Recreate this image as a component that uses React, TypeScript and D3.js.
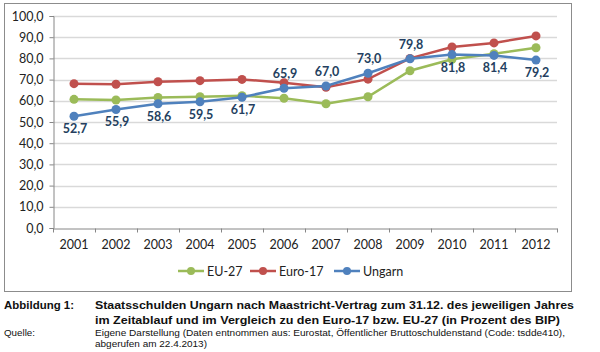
import React, { useEffect, useRef } from 'react';
import * as d3 from 'd3';

const years = ['2001', '2002', '2003', '2004', '2005', '2006', '2007', '2008', '2009', '2010', '2011', '2012'];
const eu27 = [60.7, 60.4, 61.6, 61.9, 62.4, 61.2, 58.6, 61.9, 74.2, 79.6, 82.2, 85.0];
const euro17 = [68.1, 67.8, 69.0, 69.5, 70.1, 68.5, 66.4, 70.2, 80.0, 85.4, 87.3, 90.6];
const ungarn = [52.7, 55.9, 58.6, 59.5, 61.7, 65.9, 67.0, 73.0, 79.8, 81.8, 81.4, 79.2];
const labelAboveYears = ['2006', '2007', '2008', '2009'];
const yTicks = [0, 10, 20, 30, 40, 50, 60, 70, 80, 90, 100];

const series = [
  { name: 'EU-27', values: eu27, color: '#9bbb59' },
  { name: 'Euro-17', values: euro17, color: '#c0504d' },
  { name: 'Ungarn', values: ungarn, color: '#4f81bd' },
];

const fmt = (v: number) => v.toFixed(1).replace('.', ',');

const App = () => {
  const ref = useRef<SVGSVGElement>(null);

  useEffect(() => {
    const svg = d3.select(ref.current);
    svg.selectAll('*').remove();

    const font = 'Lato, "Open Sans", sans-serif';
    const left = 53, right = 557, top = 16, bottom = 228;

    svg.append('rect').attr('width', 600).attr('height', 352).attr('fill', '#fff');
    // outer frame
    svg.append('rect')
      .attr('x', 4.5).attr('y', 3.5).attr('width', 567).attr('height', 288)
      .attr('fill', 'none').attr('stroke', '#8c8c8c');

    const x = d3.scaleBand().domain(years).range([left, right]);
    const y = d3.scaleLinear().domain([0, 100]).range([bottom, top]);
    const cx = (yr: string) => (x(yr) as number) + x.bandwidth() / 2;

    // gridlines
    svg.append('g').selectAll('line')
      .data(yTicks.filter(t => t > 0))
      .enter().append('line')
      .attr('x1', left).attr('x2', right)
      .attr('y1', d => Math.round(y(d)) + 0.5).attr('y2', d => Math.round(y(d)) + 0.5)
      .attr('stroke', '#d9d9d9').attr('stroke-width', 1.5);

    // y axis
    const yAxis = svg.append('g')
      .attr('transform', `translate(${left + 0.5},0)`)
      .call(d3.axisLeft(y).tickValues(yTicks).tickSize(4).tickPadding(6).tickFormat(d => fmt(+d)));
    yAxis.selectAll('path,line').attr('stroke', '#868686');
    yAxis.selectAll('text').attr('font-family', font).attr('font-size', 12.5).attr('fill', '#222');

    // x axis
    const xAxis = svg.append('g')
      .attr('transform', `translate(0,${bottom + 0.5})`)
      .call(d3.axisBottom(x).tickSize(0).tickPadding(12));
    xAxis.select('path').attr('stroke', '#868686');
    xAxis.selectAll('text').attr('font-family', font).attr('font-size', 12.5).attr('fill', '#222');
    xAxis.selectAll('.sep')
      .data(years.concat(['end']))
      .enter().append('line')
      .attr('x1', (d, i) => left + i * x.bandwidth() + 0.5)
      .attr('x2', (d, i) => left + i * x.bandwidth() + 0.5)
      .attr('y1', 0).attr('y2', 4)
      .attr('stroke', '#868686');

    const line = d3.line<number>()
      .x((d, i) => cx(years[i]))
      .y(d => y(d));

    series.forEach(s => {
      svg.append('path')
        .datum(s.values)
        .attr('d', line)
        .attr('fill', 'none')
        .attr('stroke', s.color)
        .attr('stroke-width', 2.5);
      svg.append('g').selectAll('circle')
        .data(s.values)
        .enter().append('circle')
        .attr('cx', (d, i) => cx(years[i]))
        .attr('cy', d => y(d))
        .attr('r', 4.5)
        .attr('fill', s.color);
    });

    // data labels for Ungarn
    svg.append('g').selectAll('text')
      .data(ungarn)
      .enter().append('text')
      .attr('x', (d, i) => cx(years[i]) + 1)
      .attr('y', (d, i) => y(d) + (labelAboveYears.includes(years[i]) ? -10 : 17))
      .attr('text-anchor', 'middle')
      .attr('font-family', font)
      .attr('font-size', 12.5)
      .attr('font-weight', 'bold')
      .attr('fill', '#243f60')
      .text(d => fmt(d));

    // legend
    const legendX = [178, 250, 334];
    const legend = svg.append('g').attr('transform', 'translate(0,271)');
    series.forEach((s, i) => {
      const g = legend.append('g').attr('transform', `translate(${legendX[i]},0)`);
      g.append('line').attr('x1', 0).attr('x2', 26).attr('y1', 0).attr('y2', 0)
        .attr('stroke', s.color).attr('stroke-width', 2.5);
      g.append('circle').attr('cx', 13).attr('cy', 0).attr('r', 4).attr('fill', s.color);
      g.append('text').attr('x', 29).attr('y', 4.5)
        .attr('font-family', font).attr('font-size', 12.5).attr('fill', '#222')
        .text(s.name);
    });

    // caption
    const cap = '"Liberation Sans", Arial, sans-serif';
    const capText = (t: string, xx: number, yy: number, w: number, size: number, bold: boolean) =>
      svg.append('text')
        .attr('x', xx).attr('y', yy)
        .attr('font-family', cap).attr('font-size', size)
        .attr('font-weight', bold ? 'bold' : 'normal')
        .attr('fill', '#111')
        .attr('textLength', w).attr('lengthAdjust', 'spacingAndGlyphs')
        .text(t);
    capText('Abbildung 1:', 4, 309, 70, 11.5, true);
    capText('Staatsschulden Ungarn nach Maastricht-Vertrag zum 31.12. des jeweiligen Jahres', 95, 309, 479, 11, true);
    capText('im Zeitablauf und im Vergleich zu den Euro-17 bzw. EU-27 (in Prozent des BIP)', 95, 324, 465, 11, true);
    capText('Quelle:', 4, 336, 31, 8.5, false);
    capText('Eigene Darstellung (Daten entnommen aus: Eurostat, Öffentlicher Bruttoschuldenstand (Code: tsdde410),', 95, 336, 470, 8.5, false);
    capText('abgerufen am 22.4.2013)', 95, 347, 112, 8.5, false);
  }, []);

  return (
    <svg ref={ref} width={600} height={352}
      style={{ position: 'absolute', left: 0, top: 0, display: 'block' }} />
  );
};

export default App;
